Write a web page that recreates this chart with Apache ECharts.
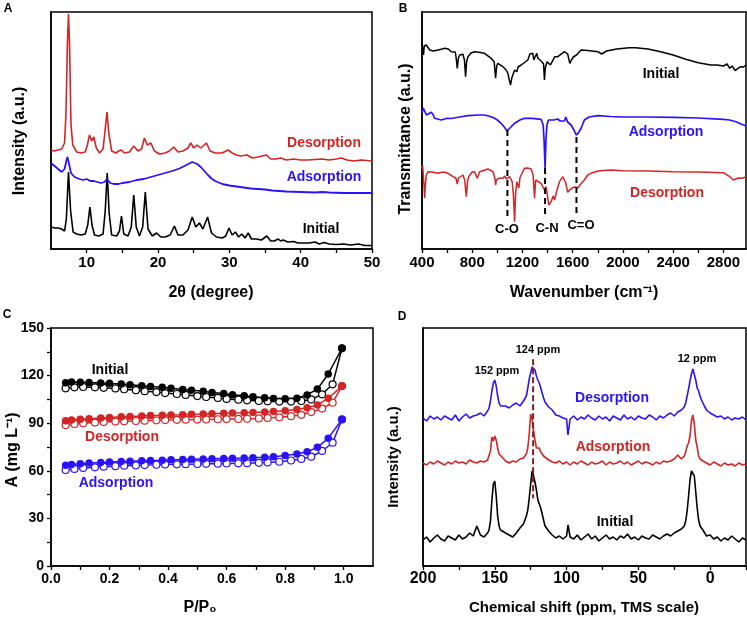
<!DOCTYPE html>
<html><head><meta charset="utf-8">
<script src="https://cdn.jsdelivr.net/npm/echarts@6/dist/echarts.min.js"></script>
<style>html,body{margin:0;padding:0;background:#fff}#c{width:747px;height:621px}</style>
</head><body><div id="c"></div>
<script>
// ---------- Panel A: XRD (x = 2θ degree, y = intensity a.u.) ----------
const xrdInitial = [[5,22],[5.5,21],[6,21],[6.5,20],[6.9,18],[7.15,30],[7.45,77],[7.75,38],[8.1,17],[8.6,15],[9.2,14],[9.8,15],[10.15,24],[10.45,42],[10.75,24],[11.1,14],[11.7,13],[12.3,15],[12.6,38],[12.88,76],[13.15,36],[13.5,14],[14.2,13],[14.6,18],[14.88,33],[15.2,15],[15.8,13],[16.25,22],[16.6,54],[16.95,22],[17.4,13],[17.85,22],[18.22,57],[18.6,20],[19.2,13],[19.8,16],[20.4,12],[21,12],[21.7,14],[22.3,23],[22.8,14],[23.5,14],[24.2,19],[24.8,32],[25.3,22],[25.8,26],[26.3,20],[26.95,32],[27.5,16],[28.2,12],[29,11],[29.5,13],[29.95,21],[30.4,14],[30.85,17],[31.3,12],[31.75,15],[32.2,11],[32.65,16],[33.1,10],[33.8,10],[34.5,9],[35.25,13],[35.8,8],[36.3,8],[36.85,10],[37.2,8],[37.55,9],[38.2,7],[39,7.5],[39.6,6],[40.3,6],[41.2,6],[42,7],[42.6,5],[43.3,6.5],[44,5],[45,4.5],[46,5],[47,4],[48.1,5],[49,3.5],[50,3.5]];
const xrdDesorption = [[5,99],[5.5,98],[6,99],[6.5,100],[6.9,106],[7.1,135],[7.3,205],[7.45,235],[7.6,205],[7.8,125],[8.05,104],[8.6,97],[9.2,96],[9.8,97],[10.1,104],[10.4,114],[10.7,108],[11.0,112],[11.35,101],[11.8,96],[12.3,100],[12.6,120],[12.85,137],[13.1,116],[13.5,98],[14.1,96],[14.5,98],[14.85,99],[15.3,96],[16,97],[16.6,103],[17.2,98],[17.7,100],[18.1,111],[18.5,104],[19.0,106],[19.5,98],[20.2,95],[21,96],[21.6,98],[22.2,102],[22.8,97],[23.5,98],[24.2,101],[24.6,106],[25.0,101],[25.5,104],[26.0,101],[26.8,106],[27.3,98],[28,96],[29,96],[29.8,99],[30.4,96],[31,94],[31.6,93],[32.5,94],[33.2,91],[34,92],[35.2,94],[35.8,90],[36.5,90],[37.2,91],[38,89],[39,90],[40,89],[41,89],[42,89.5],[43,90],[44,89],[45,90],[45.7,91],[46.5,89],[47.5,88],[48.5,89],[50,88]];
const xrdAdsorption = [[5,86],[5.5,83],[6,80],[6.5,77],[6.9,80],[7.15,88],[7.3,92],[7.5,86],[7.8,76],[8.3,72],[9,70],[9.5,69],[10,70],[10.5,68],[11,68],[11.5,67],[12,66],[12.5,67],[12.85,70],[13.3,66],[13.8,65],[14.5,65],[15,66],[16,67],[17,69],[18,70],[19,72],[20,74],[21,76],[22,78],[23,80.5],[24,84],[24.8,87],[25.5,85],[26,82],[26.5,78],[27,74],[27.5,70.5],[28,68],[29,65],[30,63.5],[31,62.5],[32,61.5],[33,60.5],[34,60],[35,59.5],[36,58.5],[38,57.5],[40,57],[42,56.5],[43,57],[44,56.5],[46,56],[48,56],[50,56]];
const aTickLabels = [10,20,30,40,50];
const aTicks = [10,15,20,25,30,35,40,45,50];

// ---------- Panel B: FTIR (x = wavenumber cm-1, y = transmittance a.u.) ----------
const ftirInitial = [[400,205.7],[405,207.3],[412,194],[418,203],[434,204],[445,202],[461,199],[490,198],[527,199],[560,200],[580,200.7],[610,200],[633,197.3],[665,197],[672,191],[681,180.7],[690,191],[700,194],[726,194.7],[738,189],[747,172.3],[755,187],[766,192.3],[790,196],[819,197.3],[850,196.7],[898,195.7],[951,190.7],[975,187],[986,170.7],[995,183],[1004,185.7],[1044,182.3],[1070,179],[1084,175.7],[1095,169],[1105,164],[1115,171],[1137,179],[1155,177.3],[1165,182],[1190,184],[1243,189],[1259,195],[1283,195.7],[1290,189],[1298,187.3],[1314,195.7],[1322,191],[1354,187.3],[1368,185],[1375,169],[1382,181],[1396,187.3],[1423,184],[1457,192.3],[1481,192.3],[1516,195.7],[1534,197.3],[1560,195],[1577,185.7],[1590,189],[1605,192],[1630,194],[1667,199],[1720,198.5],[1800,197.3],[1831,195],[1870,198],[1950,200],[2050,201.3],[2100,201.3],[2200,200],[2300,197.3],[2400,194],[2500,189.7],[2600,186.3],[2700,184],[2750,184],[2800,183],[2830,185],[2850,180.7],[2870,183],[2894,178.3],[2920,181],[2940,182.3],[2960,182],[2980,184]];
const ftirAdsorption = [[400,135.7],[410,141],[421,140.7],[435,134],[448,132.3],[474,136.7],[490,134],[501,130.7],[553,129],[600,130.7],[633,130.5],[700,132],[766,133.3],[850,134],[898,134],[950,132.3],[978,130.7],[1000,129],[1030,125.7],[1055,122],[1078,118],[1100,121],[1137,125.7],[1180,129],[1216,130.7],[1280,130.7],[1348,129.7],[1365,124],[1372,109],[1380,80.7],[1387,109],[1395,124],[1407,129],[1450,129],[1480,130],[1500,128],[1534,128],[1545,132],[1560,127],[1587,124],[1610,119],[1627,114],[1645,116],[1667,120.7],[1693,129],[1730,132],[1800,133.3],[1900,132.5],[2000,132],[2200,132],[2400,131.7],[2600,131],[2800,129.7],[2850,129],[2900,127.3],[2940,125],[2980,123]];
const ftirDesorption = [[400,80.7],[405,84],[411,82.3],[416,64],[421,50.7],[427,64],[434,74],[448,77.3],[480,77],[527,75.7],[570,77],[607,75.7],[647,72.3],[670,71],[681,65],[690,71],[700,72.3],[726,74],[740,69],[753,52.3],[762,67],[771,72.3],[800,77],[819,77.3],[840,70.7],[859,77.3],[900,79],[925,80],[965,77.3],[980,71],[986,64],[993,69],[1010,70.7],[1044,70.7],[1060,73],[1070,70],[1080,72],[1097,72.3],[1118,67.3],[1128,54],[1137,27.3],[1145,54],[1155,67.3],[1171,61],[1180,71],[1190,74],[1216,80.7],[1240,81],[1269,80],[1285,74],[1296,50.7],[1305,69],[1314,70.7],[1348,65.7],[1375,59],[1388,62.3],[1410,44],[1428,47.3],[1445,53],[1455,49],[1475,59],[1495,67.3],[1521,72.3],[1545,66],[1560,56.7],[1575,59],[1592,60.7],[1615,62],[1640,61.3],[1665,65],[1693,69],[1720,74],[1746,75.7],[1800,78],[1900,79],[2000,78.3],[2200,78],[2400,77.3],[2600,77],[2800,76.3],[2850,72.3],[2880,69],[2894,67.3],[2920,71],[2950,70.7],[2980,72.3]];
const bDashX = [1080,1380,1630];
const bDashTop = [119,81,112];
const bDashBottom = [31,32,36];
const bDashNames = ['C-O','C-N','C=O'];
const bTickLabels = [400,800,1200,1600,2000,2400,2800];
const bTicks = [400,600,800,1000,1200,1400,1600,1800,2000,2200,2400,2600,2800];

// ---------- Panel C: A (mg L-1) vs P/P0 ----------
const pFilled = [0.05,0.07,0.10,0.13,0.17,0.20,0.24,0.27,0.31,0.34,0.38,0.41,0.45,0.48,0.52,0.55,0.59,0.62,0.66,0.69,0.73,0.76,0.80,0.84,0.875,0.91,0.947,0.994];
const pOpen = [0.05,0.08,0.11,0.15,0.18,0.22,0.25,0.29,0.32,0.36,0.39,0.43,0.46,0.50,0.53,0.57,0.60,0.64,0.67,0.71,0.74,0.78,0.82,0.855,0.889,0.926,0.962,0.994];
const initFilled = [115.5,116,115.8,115.6,115.4,115.1,114.7,114.2,113.6,113.1,112.6,112.0,111.3,110.7,110.1,109.4,108.7,108.0,107.3,106.6,106.1,105.6,105.4,105.8,107.8,111.5,121.0,137.2];
const initOpen = [112.0,112.6,112.8,112.6,112.3,111.9,111.4,110.8,110.2,109.6,109.0,108.4,107.8,107.1,106.5,105.9,105.3,104.8,104.4,104.0,103.8,103.6,103.6,104.0,105.0,108.2,114.5,137.2];
const desFilled = [91.5,92.0,92.5,92.8,93.3,93.6,94.0,94.3,94.5,94.8,95.0,95.2,95.4,95.6,95.8,96.0,96.2,96.4,96.6,96.8,97.0,97.3,97.8,98.6,99.8,101.5,105.7,113.4];
const desOpen = [88.8,89.5,90.0,90.4,90.7,91.0,91.2,91.4,91.6,91.8,92.0,92.1,92.2,92.3,92.4,92.5,92.6,92.7,92.8,93.0,93.3,93.7,94.4,95.3,97.0,99.2,102.9,113.4];
const adsFilled = [63.5,64.0,64.5,64.9,65.2,65.5,65.8,66.0,66.3,66.5,66.7,66.9,67.1,67.3,67.5,67.6,67.8,67.9,68.0,68.2,68.5,68.9,69.6,70.6,72.0,74.8,80.5,92.4];
const adsOpen = [60.5,61.2,61.8,62.2,62.6,62.9,63.2,63.4,63.6,63.8,64.0,64.1,64.2,64.3,64.4,64.5,64.6,64.7,64.8,65.0,65.3,65.7,66.5,67.5,68.9,72.5,77.7,92.4];
const cXLabels = [0,0.2,0.4,0.6,0.8,1.0];
const cXTicks = [0,0.1,0.2,0.3,0.4,0.5,0.6,0.7,0.8,0.9,1.0];
const cYLabels = [0,30,60,90,120,150];
const cYTicks = [0,15,30,45,60,75,90,105,120,135,150];

// ---------- Panel D: NMR (x = chemical shift ppm, y = intensity a.u.) ----------
const ppmD = [200,197.5,195,192.5,190,187.5,185,182.5,180,177.5,175,172.5,170,167.5,165,162.5,160,157.5,155,
  154,153,152,151,150,149,148,147,146,145,
  142.5,140,137.5,135,132.5,130,
  128,127,126,125,124,123,122,121,120,119,118,117,116,115,
  112.5,110,107.5,105,102.5,100,
  99,
  97.5,95,92.5,90,87.5,85,82.5,80,77.5,75,72.5,70,67.5,65,62.5,60,57.5,55,52.5,50,47.5,45,42.5,40,37.5,35,32.5,30,27.5,25,22.5,20,
  18,17,16,15,14,13,12,11,10,9,8,7,6,5,4,
  2.5,0,-2.5,-5,-7.5,-10,-12.5,-15,-17.5,-20,-22.5,-25];
const nmrInitial = [26,29,24,28,31,27,25,30,28,26,31,27,29,33,30,40,31,29,33,
  36,45,66,82,85,70,50,40,36,34,
  33,31,29,33,38,42,
  50,56,68,82,95,90,84,76,66,62,58,52,46,40,
  35,31,28,30,27,30,
  41,
  29,27,31,26,29,32,27,30,25,28,31,27,29,26,30,28,32,27,29,26,30,28,27,31,29,27,30,32,30,33,35,37,
  40,45,55,70,86,95,97,90,74,58,46,40,38,36,34,
  30,31,27,29,25,28,26,30,27,24,28,26];
const nmrAdsorption = [103,101,104,102,105,103,101,104,102,105,103,104,102,106,104,103,105,104,106,
  108,115,129,125,130,126,118,112,114,109,
  105,103,105,104,107,108,
  112,118,132,152,146,135,126,118,117,118,114,112,110,108,
  106,104,103,105,102,104,
  103,
  101,104,102,105,103,101,104,102,103,105,101,104,102,103,105,102,104,101,103,105,102,104,103,101,104,102,105,104,105,107,111,107,
  110,114,120,123,130,145,151,142,126,119,110,107,106,105,104,
  103,101,104,102,100,103,101,102,100,103,101,102];
const nmrDesorption = [148,145,150,147,149,146,150,148,146,151,145,149,152,148,150,151,153,150,155,
  158,165,175,183,186,180,170,163,160,158,
  160,158,161,163,160,165,
  170,178,187,193,199,201,196,190,186,183,178,173,168,164,
  159,156,151,150,148,147,
  131,
  147,150,146,149,147,151,148,146,150,147,149,145,150,148,146,151,147,149,146,150,148,147,151,149,146,150,148,151,153,150,154,156,
  159,163,170,177,185,192,197,196,186,178,175,170,166,163,160,
  156,153,151,149,150,147,149,146,148,147,149,146];
const dDashX = 123.3, dDashTop = 206.7, dDashBottom = 67.7;
const dXLabels = [200,150,100,50,0];
const dXTicks = [200,175,150,125,100,75,50,25,0,-25];

// ---------- styling ----------
const BLACK = '#000000', RED = '#d42424', BLUE = '#2b12ff';
const SANS = '"Liberation Sans",Arial,Helvetica,sans-serif';

function zip(xs, ys){ return xs.map((x,i)=>[x, ys[i]]); }

function xAxisCfg(gi, min, max, labels, ticks, size, margin, fmt, extra){
  return Object.assign({
    gridIndex: gi, type: 'value', min: min, max: max,
    axisLine: {show: true, onZero: false, lineStyle: {color: BLACK, width: 1.5}},
    axisTick: {show: true, customValues: ticks, length: 4, inside: false, lineStyle: {color: BLACK, width: 1.3}},
    axisLabel: {show: true, customValues: labels, color: BLACK, fontFamily: SANS, fontWeight: 'bold', fontSize: size, margin: margin, formatter: fmt},
    splitLine: {show: false}
  }, extra || {});
}
function yHidden(gi, max){
  return {gridIndex: gi, type: 'value', min: 0, max: max,
    axisLine: {show: true, onZero: false, lineStyle: {color: BLACK, width: 1.5}},
    axisTick: {show: false}, axisLabel: {show: false}, splitLine: {show: false}};
}
function lineSeries(xi, data, color, w){
  return {type: 'line', xAxisIndex: xi, yAxisIndex: xi, data: data, showSymbol: false, symbol: 'none',
    lineStyle: {color: color, width: w || 1.5}, itemStyle: {color: color}, animation: false, silent: true};
}
function dotSeries(xs, ys, color, filled){
  return {type: 'line', xAxisIndex: 2, yAxisIndex: 2, data: zip(xs, ys), symbol: 'circle', symbolSize: filled ? 7.5 : 7,
    showSymbol: true, lineStyle: {color: color, width: 1.5},
    itemStyle: filled ? {color: color} : {color: '#ffffff', borderColor: color, borderWidth: 1.2},
    animation: false, silent: true, z: filled ? 4 : 3};
}
function txt(x, y, s, color, font, rot){
  return {type: 'text', x: x, y: y, rotation: rot || 0, z: 100,
    style: {text: s, fill: color, font: font, textAlign: 'center', textVerticalAlign: 'middle'}};
}
const plain = v => String(v);

const series = [];
series.push(lineSeries(0, xrdInitial, BLACK, 1.6));
series.push(lineSeries(0, xrdAdsorption, BLUE, 1.8));
series.push(lineSeries(0, xrdDesorption, RED, 1.6));
series.push(lineSeries(1, ftirInitial, BLACK, 1.5));
series.push(lineSeries(1, ftirAdsorption, BLUE, 1.7));
series.push(lineSeries(1, ftirDesorption, RED, 1.5));
bDashX.forEach((x,i)=>{
  series.push({type: 'line', xAxisIndex: 1, yAxisIndex: 1, data: [[x, bDashTop[i]], [x, bDashBottom[i]]], symbol: 'none',
    lineStyle: {color: BLACK, width: 2, type: [6,4]}, animation: false, silent: true, z: 5});
});
series.push(dotSeries(pOpen, initOpen, BLACK, false));
series.push(dotSeries(pFilled, initFilled, BLACK, true));
series.push(dotSeries(pOpen, desOpen, RED, false));
series.push(dotSeries(pFilled, desFilled, RED, true));
series.push(dotSeries(pOpen, adsOpen, BLUE, false));
series.push(dotSeries(pFilled, adsFilled, BLUE, true));
series.push(lineSeries(3, zip(ppmD, nmrInitial), BLACK, 1.6));
series.push(lineSeries(3, zip(ppmD, nmrAdsorption), RED, 1.6));
series.push(lineSeries(3, zip(ppmD, nmrDesorption), BLUE, 1.6));
series.push({type: 'line', xAxisIndex: 3, yAxisIndex: 3, data: [[dDashX, dDashTop], [dDashX, dDashBottom]], symbol: 'none',
  lineStyle: {color: '#7a2222', width: 2, type: [6,3]}, animation: false, silent: true, z: 5});

const gridBox = {show: true, borderColor: BLACK, borderWidth: 1.5, backgroundColor: 'transparent'};
const option = {
  backgroundColor: '#ffffff',
  animation: false,
  grid: [
    Object.assign({left: 51, top: 12, width: 321, height: 237}, gridBox),
    Object.assign({left: 422, top: 12, width: 324, height: 237}, gridBox),
    Object.assign({left: 51, top: 328, width: 322, height: 238}, gridBox),
    Object.assign({left: 423, top: 328, width: 323, height: 238}, gridBox)
  ],
  xAxis: [
    xAxisCfg(0, 5, 50, aTickLabels, aTicks, 15, 6, plain),
    xAxisCfg(1, 400, 2980, bTickLabels, bTicks, 15, 6, plain),
    xAxisCfg(2, 0, 1.1, cXLabels, cXTicks, 14, 6, v => Number(v).toFixed(1)),
    xAxisCfg(3, -25, 200, dXLabels, dXTicks, 16, 5, plain, {inverse: true})
  ],
  yAxis: [
    yHidden(0, 237),
    yHidden(1, 237),
    {gridIndex: 2, type: 'value', min: 0, max: 150,
      axisLine: {show: true, onZero: false, lineStyle: {color: BLACK, width: 1.5}},
      axisTick: {show: true, customValues: cYTicks, length: 4, lineStyle: {color: BLACK, width: 1.3}},
      axisLabel: {show: true, customValues: cYLabels, color: BLACK, fontFamily: SANS, fontWeight: 'bold', fontSize: 14, margin: 7},
      splitLine: {show: false}},
    yHidden(3, 238)
  ],
  series: series,
  graphic: [
    txt(8, 9, 'A', BLACK, 'bold 12px ' + SANS),
    txt(403, 9, 'B', BLACK, 'bold 12px ' + SANS),
    txt(7, 315, 'C', BLACK, 'bold 12px ' + SANS),
    txt(402, 317, 'D', BLACK, 'bold 12px ' + SANS),
    // panel A
    txt(324, 143, 'Desorption', RED, 'bold 14px ' + SANS),
    txt(324, 177, 'Adsorption', BLUE, 'bold 14px ' + SANS),
    txt(321, 229, 'Initial', BLACK, 'bold 14px ' + SANS),
    txt(211, 293, '2θ (degree)', BLACK, 'bold 16px ' + SANS),
    txt(20, 141, 'Intensity (a.u.)', BLACK, 'bold 16px ' + SANS, Math.PI/2),
    // panel B
    txt(661, 74, 'Initial', BLACK, 'bold 14px ' + SANS),
    txt(666, 132, 'Adsorption', BLUE, 'bold 14px ' + SANS),
    txt(667, 193, 'Desorption', RED, 'bold 14px ' + SANS),
    txt(507, 229, bDashNames[0], BLACK, 'bold 13px ' + SANS),
    txt(547, 228, bDashNames[1], BLACK, 'bold 13px ' + SANS),
    txt(581, 225, bDashNames[2], BLACK, 'bold 13px ' + SANS),
    txt(584, 293, 'Wavenumber (cm\u207B\u00B9)', BLACK, 'bold 16px ' + SANS),
    txt(406, 139, 'Transmittance (a.u.)', BLACK, 'bold 16px ' + SANS, Math.PI/2),
    // panel C
    txt(110, 370, 'Initial', BLACK, 'bold 14px ' + SANS),
    txt(122, 437, 'Desorption', RED, 'bold 14px ' + SANS),
    txt(116, 483, 'Adsorption', BLUE, 'bold 14px ' + SANS),
    txt(200, 608, 'P/P\u2080', BLACK, 'bold 16px ' + SANS),
    txt(13, 450, 'A (mg L\u207B\u00B9)', BLACK, 'bold 16px ' + SANS, Math.PI/2),
    // panel D
    txt(497, 371, '152 ppm', BLACK, 'bold 11px ' + SANS),
    txt(538, 350, '124 ppm', BLACK, 'bold 11px ' + SANS),
    txt(697, 359, '12 ppm', BLACK, 'bold 11px ' + SANS),
    txt(612, 398, 'Desorption', BLUE, 'bold 14px ' + SANS),
    txt(613, 447, 'Adsorption', RED, 'bold 14px ' + SANS),
    txt(615, 522, 'Initial', BLACK, 'bold 14px ' + SANS),
    txt(584, 608, 'Chemical shift (ppm, TMS scale)', BLACK, 'bold 15px ' + SANS),
    txt(394, 457, 'Intensity (a.u.)', BLACK, 'bold 15px ' + SANS, Math.PI/2)
  ]
};
const chart = echarts.init(document.getElementById('c'), null, {renderer: 'canvas'});
chart.setOption(option);
</script>
</body></html>
